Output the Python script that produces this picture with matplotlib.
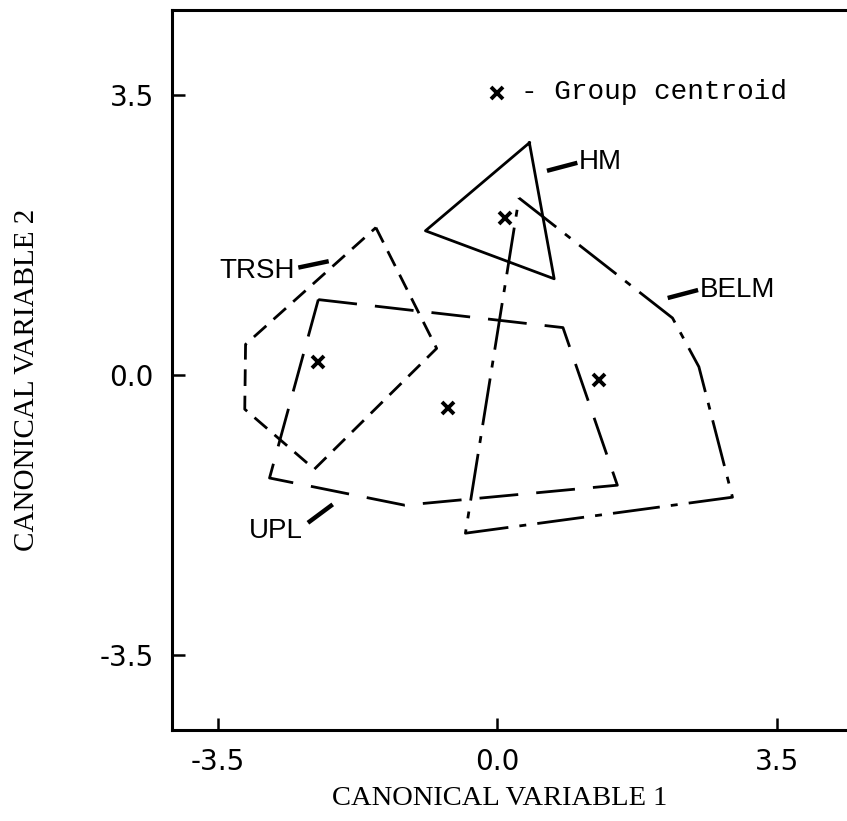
import matplotlib
matplotlib.use("Agg")
import matplotlib.pyplot as plt

plt.rcParams['lines.scale_dashes'] = False

# ---- data (canonical variable coordinates) ----
groups = ["TRSH", "UPL", "HM", "BELM"]

trsh_x = [-1.52, -0.76, -2.29, -3.16, -3.15]
trsh_y = [1.84, 0.33, -1.18, -0.43, 0.38]

upl_x = [-2.24, 0.82, 1.50, -1.16, -2.85]
upl_y = [0.94, 0.59, -1.38, -1.63, -1.29]

hm_x = [0.40, 0.71, -0.90]
hm_y = [2.90, 1.20, 1.80]

belm_x = [0.27, 2.19, 2.52, 2.94, -0.40]
belm_y = [2.21, 0.71, 0.10, -1.53, -1.98]

centroid_x = [-2.25, -0.62, 0.09, 1.27]
centroid_y = [0.16, -0.41, 1.96, -0.07]

tick_vals = [-3.5, 0.0, 3.5]
tick_labels = ["-3.5", "0.0", "3.5"]

xlabel = "CANONICAL VARIABLE 1"
ylabel = "CANONICAL VARIABLE 2"
legend_text = "- Group centroid"

# ---- figure ----
W, H = 847, 821
fig = plt.figure(figsize=(W / 100, H / 100), dpi=100)
AX_L, AX_R, AX_T, AX_B = 172, 846, 10, 730
ax = fig.add_axes([AX_L / W, 1 - AX_B / H, (AX_R - AX_L) / W, (AX_B - AX_T) / H])
ax.set_xlim(-4.07, 4.36)
ax.set_ylim(-4.44, 4.56)

lw = 2.0
def closed(xs, ys):
    return list(xs) + [xs[0]], list(ys) + [ys[0]]

x, y = closed(trsh_x, trsh_y)
ax.plot(x, y, color="black", lw=lw, linestyle=(0, (12, 7)))
x, y = closed(upl_x, upl_y)
ax.plot(x, y, color="black", lw=lw, linestyle=(0, (28, 13)))
x, y = closed(hm_x, hm_y)
ax.plot(x, y, color="black", lw=lw, linestyle="-")
x, y = closed(belm_x, belm_y)
ax.plot(x, y, color="black", lw=lw, linestyle=(0, (34, 8, 5, 8)))

ax.plot(centroid_x, centroid_y, linestyle="none", marker="x", color="black",
        markersize=8, markeredgewidth=2.8)

# legend
ax.plot([0.0], [3.52], linestyle="none", marker="x", color="black",
        markersize=8, markeredgewidth=2.8)
ax.text(0.30, 3.54, legend_text, family="Liberation Mono", fontsize=20,
        va="center", ha="left")

# group labels with leader lines
lab_font = dict(family="Liberation Sans", fontsize=20, va="center")
ax.plot([-2.49, -2.11], [1.34, 1.42], color="black", lw=3.2, solid_capstyle="butt")
ax.text(-2.53, 1.30, groups[0], ha="right", **lab_font)

ax.plot([-2.37, -2.06], [-1.85, -1.62], color="black", lw=3.2, solid_capstyle="butt")
ax.text(-2.43, -1.95, groups[1], ha="right", **lab_font)

ax.plot([0.62, 1.00], [2.55, 2.65], color="black", lw=3.2, solid_capstyle="butt")
ax.text(1.02, 2.66, groups[2], ha="left", **lab_font)

ax.plot([2.13, 2.51], [0.96, 1.06], color="black", lw=3.2, solid_capstyle="butt")
ax.text(2.53, 1.06, groups[3], ha="left", **lab_font)

# axes styling
ax.spines["right"].set_visible(False)
for s in ["left", "bottom", "top"]:
    ax.spines[s].set_linewidth(2.2)
ax.set_xticks(tick_vals)
ax.set_xticklabels(tick_labels)
ax.set_yticks(tick_vals)
ax.set_yticklabels(tick_labels)
ax.tick_params(direction="in", length=9, width=1.8, pad=13)
for lab in ax.get_xticklabels() + ax.get_yticklabels():
    lab.set_family("DejaVu Sans")
    lab.set_fontsize(20)

ax.set_xlabel(xlabel, family="Liberation Serif", fontsize=20.5)
ax.set_ylabel(ylabel, family="Liberation Serif", fontsize=21)
aw, ah = AX_R - AX_L, AX_B - AX_T
ax.xaxis.set_label_coords((500 - AX_L) / aw, (AX_B - 786) / ah)
ax.yaxis.set_label_coords((40 - AX_L) / aw, (AX_B - 380) / ah)

fig.savefig("out.png", dpi=100)
